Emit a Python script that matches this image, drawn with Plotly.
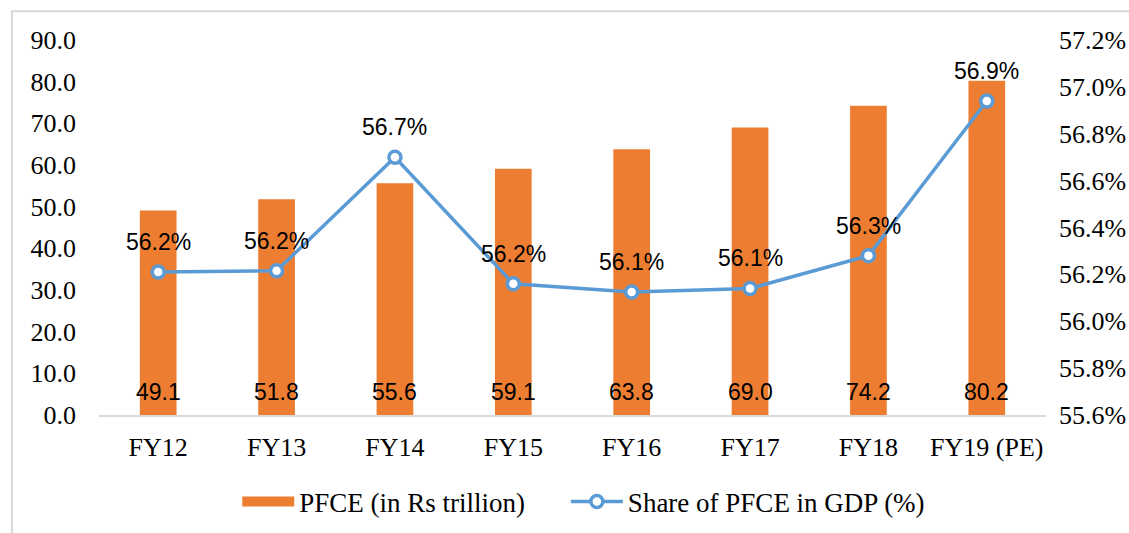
import plotly.graph_objects as go

categories = ["FY12", "FY13", "FY14", "FY15", "FY16", "FY17", "FY18", "FY19 (PE)"]
pfce = [49.1, 51.8, 55.6, 59.1, 63.8, 69.0, 74.2, 80.2]
share = [56.21, 56.215, 56.70, 56.16, 56.125, 56.14, 56.28, 56.94]

left_ticks = [0, 10, 20, 30, 40, 50, 60, 70, 80, 90]
right_ticks = [55.6, 55.8, 56.0, 56.2, 56.4, 56.6, 56.8, 57.0, 57.2]

serif = "Liberation Serif, Times New Roman, serif"
sans = "Liberation Sans, Arial, sans-serif"
ORANGE = "#ED7D31"
BLUE = "#5B9BD5"

fig = go.Figure()
fig.add_trace(go.Bar(
    x=categories, y=pfce, name="PFCE (in Rs trillion)",
    marker=dict(color=ORANGE, line=dict(width=0)),
    width=0.31, showlegend=False,
))
# legend entry mimicking the wide bar swatch
fig.add_trace(go.Scatter(
    x=[None], y=[None], name="PFCE (in Rs trillion)", mode="lines",
    line=dict(color=ORANGE, width=14), legend="legend",
))
fig.add_trace(go.Scatter(
    x=categories, y=share, name="Share of PFCE in GDP (%)",
    yaxis="y2", mode="lines+markers",
    line=dict(color=BLUE, width=3.5),
    marker=dict(size=12, color="white", line=dict(color=BLUE, width=3.5)),
    cliponaxis=False, legend="legend2",
))

annotations = []
for c, v in zip(categories, pfce):
    annotations.append(dict(x=c, y=0, xref="x", yref="y", text=f"{v:.1f}",
                            showarrow=False, yanchor="middle", yshift=23,
                            font=dict(family=sans, size=23, color="black")))
for c, v in zip(categories, share):
    annotations.append(dict(x=c, y=v, xref="x", yref="y2", text=f"{v:.1f}%",
                            showarrow=False, yanchor="middle", yshift=30,
                            font=dict(family=sans, size=23, color="black")))

legend_common = dict(orientation="h", xanchor="left", y=-0.232, yanchor="middle",
                     font=dict(family=serif, size=27, color="black"), itemwidth=52,
                     bgcolor="rgba(0,0,0,0)")

fig.update_layout(
    width=1129, height=533,
    margin=dict(l=99, r=83, t=40, b=118, autoexpand=False),
    paper_bgcolor="white", plot_bgcolor="white",
    font=dict(family=serif, size=26, color="black"),
    bargap=0.69,
    showlegend=True,
    legend=dict(x=0.146, **legend_common),
    legend2=dict(x=0.493, **legend_common),
    xaxis=dict(showgrid=False, showline=True, linecolor="#D9D9D9", linewidth=2,
               ticks="", tickfont=dict(family=serif, size=26), ticklabelstandoff=8),
    yaxis=dict(range=[0, 90], tickvals=left_ticks, ticktext=[f"{v:.1f}" for v in left_ticks],
               showgrid=False, showline=False, zeroline=False, ticks="",
               tickfont=dict(family=serif, size=26), ticklabelstandoff=22),
    yaxis2=dict(range=[55.6, 57.2], tickvals=right_ticks, ticktext=[f"{v:.1f}%" for v in right_ticks],
                overlaying="y", side="right", showgrid=False, showline=False, zeroline=False,
                ticks="", tickfont=dict(family=serif, size=26), ticklabelstandoff=12),
    annotations=annotations,
    shapes=[dict(type="rect", xref="paper", yref="paper",
                 x0=-0.092, x1=1.2, y0=-0.5, y1=1.077,
                 line=dict(color="#D9D9D9", width=2), fillcolor="rgba(0,0,0,0)", layer="below")],
)

fig.write_html("out.html", config={"displayModeBar": False},
               post_script="document.body.style.margin='0';")
